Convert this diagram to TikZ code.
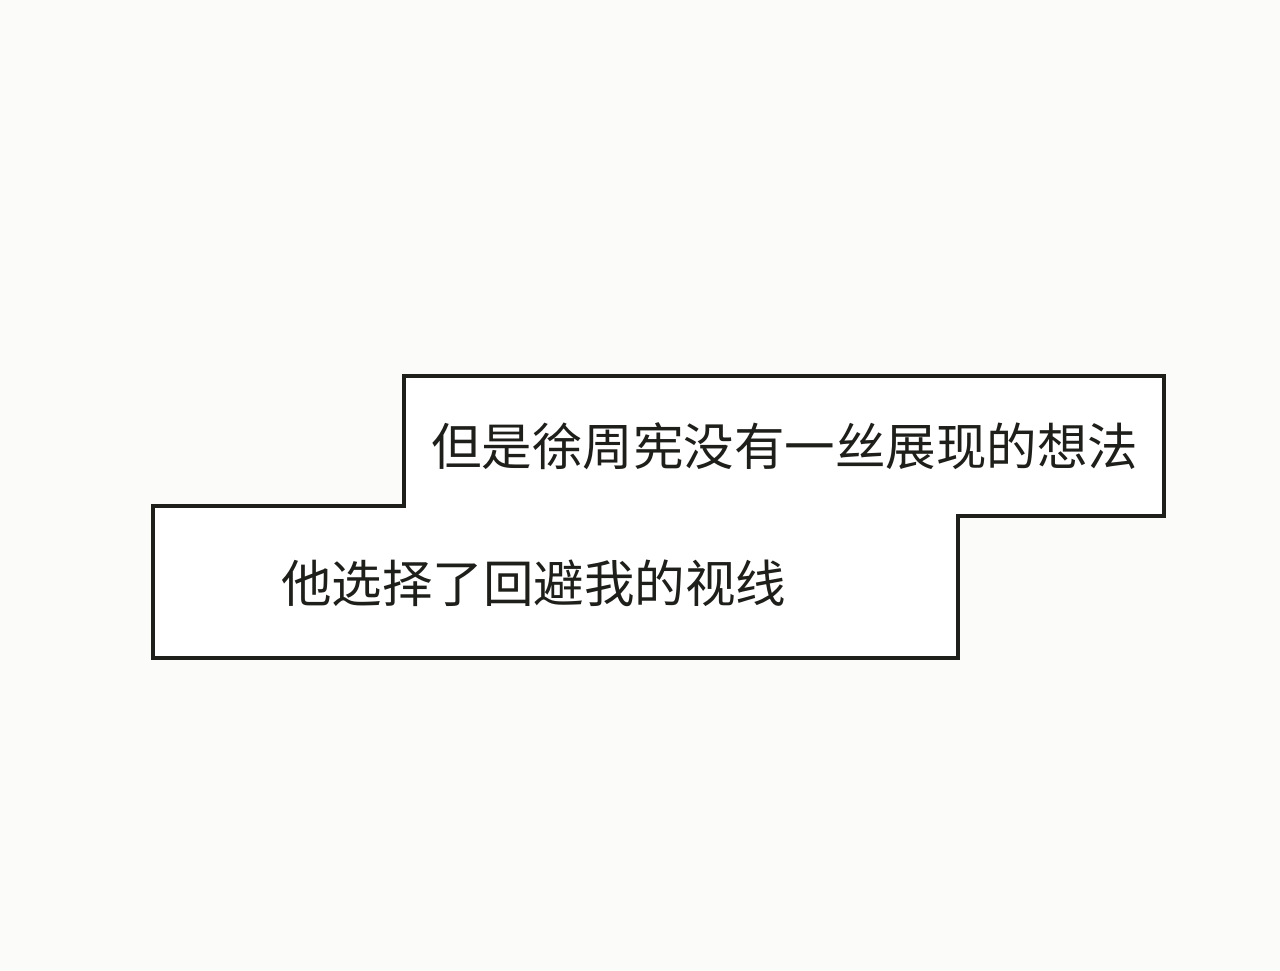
\documentclass[tikz,border=0pt]{standalone}
\usepackage{fontspec}
\newfontfamily\cjk{Noto Sans CJK SC}
\usetikzlibrary{positioning}
\definecolor{paper}{RGB}{251,251,249}
\definecolor{ink}{RGB}{30,30,26}

\begin{document}
\begin{tikzpicture}[x=1pt,y=-1pt]
\fill[paper] (0,0) rectangle (1280,971);
\useasboundingbox (0,0) rectangle (1280,971);
% Speech box
\draw[ink, line width=3.5pt, fill=white] (404,376) -- (1164,376) -- (1164,516) -- (958,516)
  -- (958,658) -- (153,658) -- (153,506) -- (404,506) -- cycle;

% Text
\node[anchor=west, inner sep=0pt, text=ink, font=\cjk\fontsize{50.5}{60}\selectfont] (line1) at (431,446) {但是徐周宪没有一丝展现的想法};
\node[anchor=west, inner sep=0pt, text=ink, font=\cjk\fontsize{50.5}{60}\selectfont] (line2) at (281,583) {他选择了回避我的视线};
\end{tikzpicture}
\end{document}
